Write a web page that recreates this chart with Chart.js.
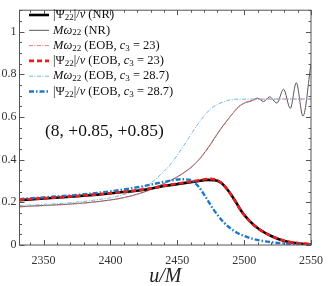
<!DOCTYPE html>
<html>
<head>
<meta charset="utf-8">
<script src="https://cdn.jsdelivr.net/npm/chart.js@4"></script>
<style>
  html, body { margin: 0; padding: 0; background: #fff; overflow: hidden; }
  #wrap { width: 332px; height: 286px; position: relative; }
</style>
</head>
<body>
<div id="wrap"><canvas id="chart"></canvas></div>
<script>
// ---- data ----
const xTickValues = [2350, 2400, 2450, 2500, 2550];
const yTickValues = [0, 0.2, 0.4, 0.6, 0.8, 1];
const panelLabel = '(8, +0.85, +0.85)';

// |Psi22|/nu (NR)
const uPsiNR   = [2332, 2350, 2370, 2390, 2410, 2425, 2440, 2455, 2465, 2472, 2478, 2483, 2488, 2493, 2498, 2504, 2511, 2521, 2530, 2540, 2550];
const psiNR    = [0.210, 0.218, 0.226, 0.236, 0.248, 0.259, 0.276, 0.290, 0.299, 0.305, 0.304, 0.290, 0.255, 0.210, 0.158, 0.113, 0.075, 0.040, 0.019, 0.008, 0.003];

// M omega22 (NR)
const uOmNR    = [2332, 2350, 2370, 2390, 2410, 2425, 2440, 2452, 2464, 2473, 2482, 2490, 2496, 2501, 2505, 2510, 2514.5, 2519, 2524.5, 2529.5, 2534.5, 2539, 2544, 2550];
const omNR     = [0.180, 0.185, 0.192, 0.203, 0.222, 0.248, 0.288, 0.327, 0.385, 0.455, 0.540, 0.605, 0.648, 0.667, 0.674, 0.688, 0.672, 0.694, 0.665, 0.730, 0.640, 0.760, 0.604, 0.850];

// M omega22 (EOB, c3 = 23)
const uOm23    = [2332, 2350, 2370, 2390, 2410, 2425, 2440, 2452, 2464, 2473, 2482, 2490, 2496, 2501, 2506, 2512, 2550];
const om23     = [0.178, 0.184, 0.191, 0.202, 0.221, 0.247, 0.287, 0.326, 0.384, 0.453, 0.538, 0.604, 0.648, 0.668, 0.678, 0.683, 0.684];

// |Psi22|/nu (EOB, c3 = 23)
const uPsi23   = [2332, 2350, 2370, 2390, 2410, 2425, 2440, 2455, 2465, 2474, 2480, 2484, 2488, 2493, 2498, 2504, 2511, 2521, 2530, 2540, 2550];
const psi23    = [0.212, 0.219, 0.227, 0.237, 0.249, 0.260, 0.277, 0.292, 0.302, 0.310, 0.303, 0.285, 0.255, 0.208, 0.157, 0.112, 0.074, 0.040, 0.020, 0.009, 0.004];

// M omega22 (EOB, c3 = 28.7)
const uOm287   = [2332, 2350, 2370, 2390, 2405, 2420, 2430, 2437.5, 2445.6, 2455.6, 2465, 2475, 2484.6, 2494, 2550];
const om287    = [0.185, 0.190, 0.198, 0.212, 0.228, 0.258, 0.290, 0.330, 0.383, 0.473, 0.563, 0.638, 0.671, 0.683, 0.684];

// |Psi22|/nu (EOB, c3 = 28.7)
const uPsi287  = [2332, 2350, 2370, 2390, 2410, 2425, 2441, 2453, 2459, 2465, 2471, 2477, 2484.6, 2494, 2506, 2523, 2550];
const psi287   = [0.215, 0.223, 0.232, 0.244, 0.260, 0.276, 0.297, 0.308, 0.306, 0.280, 0.227, 0.167, 0.107, 0.060, 0.030, 0.011, 0.003];

const SERIF = '"Liberation Serif", "DejaVu Serif", serif';

function pts(xs, ys) {
    return xs.map((x, i) => ({ x, y: ys[i] }));
}

// legend rows: segments of [text, style] where style r = roman, i = italic, s = subscript
const legendRows = [
    { color: '#000000', width: 2.6, dash: [],            text: [['|Ψ', 'r'], ['22', 's'], ['|/', 'r'], ['ν', 'i'], [' (NR)', 'r']] },
    { color: '#555555', width: 1,   dash: [],            text: [['Mω', 'i'], ['22', 's'], [' (NR)', 'r']] },
    { color: '#f07a7a', width: 1,   dash: [4, 1.5, 1, 1.5], text: [['Mω', 'i'], ['22', 's'], [' (EOB, ', 'r'], ['c', 'i'], ['3', 's'], [' = 23)', 'r']] },
    { color: '#ee1c1c', width: 2.6, dash: [5, 3],        text: [['|Ψ', 'r'], ['22', 's'], ['|/', 'r'], ['ν', 'i'], [' (EOB, ', 'r'], ['c', 'i'], ['3', 's'], [' = 23)', 'r']] },
    { color: '#72b6ea', width: 1,   dash: [4, 1.5, 1, 1.5], text: [['Mω', 'i'], ['22', 's'], [' (EOB, ', 'r'], ['c', 'i'], ['3', 's'], [' = 28.7)', 'r']] },
    { color: '#1f78c8', width: 2.4, dash: [5, 2, 1.5, 2],  text: [['|Ψ', 'r'], ['22', 's'], ['|/', 'r'], ['ν', 'i'], [' (EOB, ', 'r'], ['c', 'i'], ['3', 's'], [' = 28.7)', 'r']] }
];

function drawRich(ctx, segs, x, y, size) {
    ctx.textBaseline = 'middle';
    ctx.textAlign = 'left';
    ctx.fillStyle = '#111';
    segs.forEach(([t, s]) => {
        if (s === 's') {
            ctx.font = `${Math.round(size * 0.7)}px ${SERIF}`;
            ctx.fillText(t, x, y + size * 0.22);
        } else {
            ctx.font = `${s === 'i' ? 'italic ' : ''}${size}px ${SERIF}`;
            ctx.fillText(t, x, y);
        }
        x += ctx.measureText(t).width;
    });
}

// frame, inward ticks, legend and panel label
const decorPlugin = {
    id: 'decor',
    afterDatasetsDraw(chart) {
        const { ctx, chartArea: a, scales } = chart;
        const xs = scales.x, ys = scales.y;
        ctx.save();
        ctx.strokeStyle = '#555';
        ctx.lineWidth = 1;
        ctx.setLineDash([]);
        ctx.strokeRect(a.left, a.top, a.right - a.left, a.bottom - a.top);

        ctx.beginPath();
        for (let v = 2340; v <= 2550; v += 10) {
            const px = Math.round(xs.getPixelForValue(v)) + 0.5;
            const len = v % 50 === 0 ? 5 : 2.5;
            ctx.moveTo(px, a.bottom); ctx.lineTo(px, a.bottom - len);
            ctx.moveTo(px, a.top); ctx.lineTo(px, a.top + len);
        }
        for (let k = 0; k <= 22; k++) {
            const v = k * 0.05;
            const py = Math.round(ys.getPixelForValue(v)) + 0.5;
            const len = k % 4 === 0 ? 5 : 2.5;
            ctx.moveTo(a.left, py); ctx.lineTo(a.left + len, py);
            ctx.moveTo(a.right, py); ctx.lineTo(a.right - len, py);
        }
        ctx.stroke();

        // legend
        legendRows.forEach((row, i) => {
            const y = 15 + i * 15.3;
            ctx.beginPath();
            ctx.strokeStyle = row.color;
            ctx.lineWidth = row.width;
            ctx.setLineDash(row.dash);
            ctx.moveTo(29, y); ctx.lineTo(49, y);
            ctx.stroke();
            ctx.setLineDash([]);
            drawRich(ctx, row.text, 53, y, 12.5);
        });

        // panel label
        ctx.font = `17.5px ${SERIF}`;
        ctx.fillStyle = '#111';
        ctx.textAlign = 'left';
        ctx.textBaseline = 'middle';
        ctx.fillText(panelLabel, 45, 131);
        ctx.restore();
    }
};

const baseLine = { pointRadius: 0, fill: false, cubicInterpolationMode: 'monotone' };

new Chart(document.getElementById('chart'), {
    type: 'line',
    data: {
        datasets: [
            { ...baseLine, label: 'M omega22 (NR)', data: pts(uOmNR, omNR), borderColor: '#555555', borderWidth: 1, order: 5 },
            { ...baseLine, label: 'M omega22 (EOB, c3 = 23)', data: pts(uOm23, om23), borderColor: '#f07a7a', borderWidth: 1, borderDash: [4, 1.5, 1, 1.5], order: 4 },
            { ...baseLine, label: 'M omega22 (EOB, c3 = 28.7)', data: pts(uOm287, om287), borderColor: '#72b6ea', borderWidth: 1, borderDash: [4, 1.5, 1, 1.5], order: 3 },
            { ...baseLine, label: '|Psi22|/nu (NR)', data: pts(uPsiNR, psiNR), borderColor: '#000000', borderWidth: 2.6, order: 2 },
            { ...baseLine, label: '|Psi22|/nu (EOB, c3 = 28.7)', data: pts(uPsi287, psi287), borderColor: '#1f78c8', borderWidth: 2.4, borderDash: [5, 2, 1.5, 2], order: 1 },
            { ...baseLine, label: '|Psi22|/nu (EOB, c3 = 23)', data: pts(uPsi23, psi23), borderColor: '#ee1c1c', borderWidth: 2.6, borderDash: [5, 3], order: 0 }
        ]
    },
    options: {
        responsive: true,
        maintainAspectRatio: false,
        animation: false,
        layout: { padding: { top: 1, right: 12, left: 0, bottom: 0 } },
        plugins: {
            legend: { display: false },
            tooltip: { enabled: false }
        },
        scales: {
            x: {
                type: 'linear',
                min: 2332,
                max: 2550,
                afterBuildTicks: (s) => { s.ticks = xTickValues.map(v => ({ value: v })); },
                afterFit: (s) => { s.height = 41; },
                grid: { display: false, drawTicks: false },
                border: { display: false },
                ticks: {
                    padding: 9,
                    color: '#333',
                    font: { family: SERIF, size: 12 },
                    maxRotation: 0,
                    callback: (v) => String(v)
                },
                title: {
                    display: true,
                    text: 'u/M',
                    color: '#222',
                    font: { family: SERIF, size: 20, style: 'italic' },
                    padding: { top: 0, bottom: -3 }
                }
            },
            y: {
                type: 'linear',
                min: 0,
                max: 1.1,
                afterBuildTicks: (s) => { s.ticks = yTickValues.map(v => ({ value: v })); },
                afterFit: (s) => { s.width = 19.5; },
                grid: { display: false, drawTicks: false },
                border: { display: false },
                ticks: {
                    padding: 3,
                    color: '#333',
                    font: { family: SERIF, size: 12 },
                    callback: (v) => (v === 0 || v === 1) ? String(v) : v.toFixed(1)
                }
            }
        }
    },
    plugins: [decorPlugin]
});
</script>
</body>
</html>
